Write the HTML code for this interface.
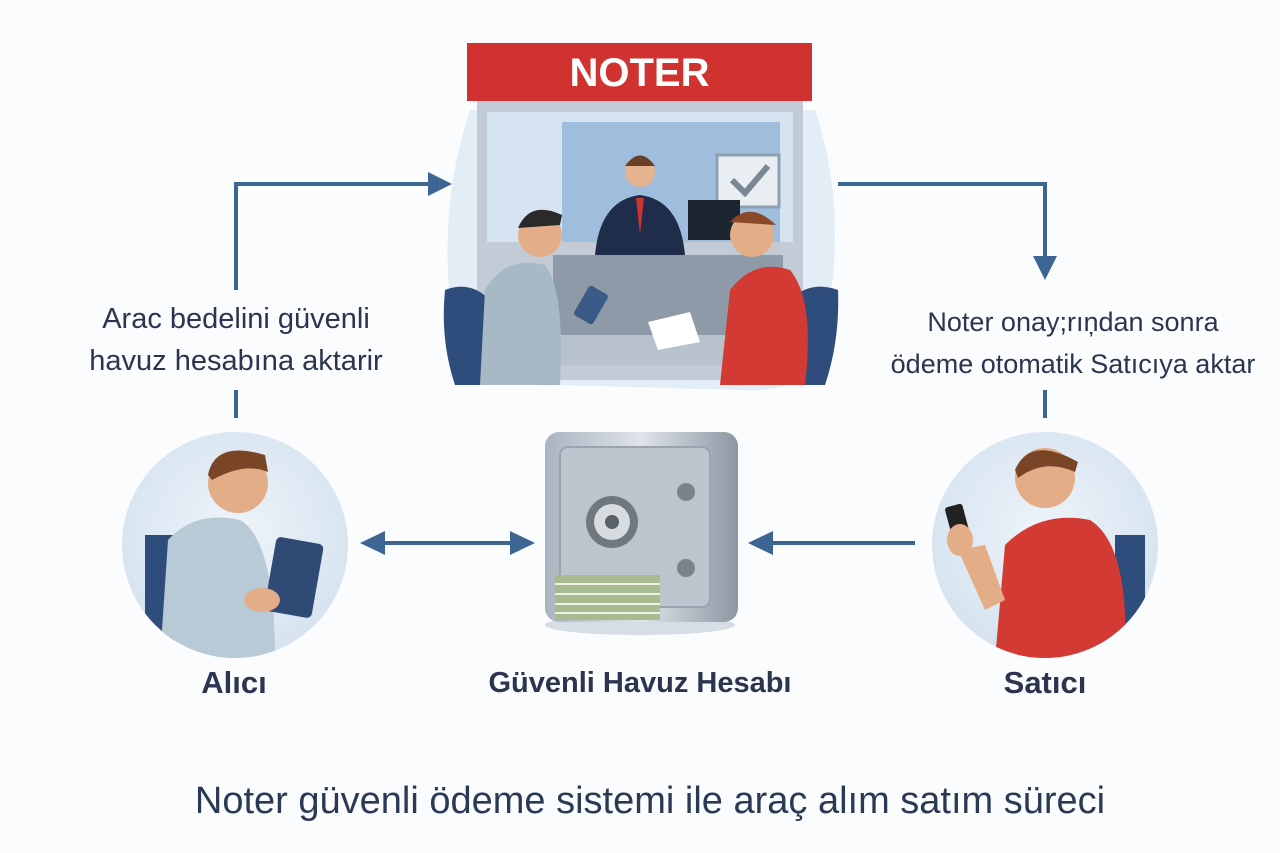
<!DOCTYPE html>
<html><head><meta charset="utf-8"><style>
html,body{margin:0;padding:0}
body{width:1280px;height:853px;background:#fbfcfd;position:relative;overflow:hidden;font-family:"Liberation Sans",sans-serif;color:#2b3550}
.t{position:absolute;text-align:center;white-space:nowrap}
</style></head><body>
<svg width="1280" height="853" style="position:absolute;left:0;top:0">
<defs>
<radialGradient id="cg" cx="50%" cy="45%" r="60%"><stop offset="0" stop-color="#eef4fa"/><stop offset="1" stop-color="#d4e2ef"/></radialGradient>
<linearGradient id="sg" x1="0" x2="1"><stop offset="0" stop-color="#aab3bf"/><stop offset=".5" stop-color="#dfe4ea"/><stop offset="1" stop-color="#8d96a3"/></linearGradient>
</defs>
<path d="M470 110 Q440 200 450 300 Q440 390 560 385 L740 390 Q840 395 830 300 Q845 200 815 110 Z" fill="#e3edf6"/>
<rect x="477" y="100" width="326" height="280" fill="#c3ccd6"/>
<rect x="487" y="112" width="306" height="130" fill="#d6e4f1"/>
<rect x="562" y="122" width="218" height="120" fill="#9fbede"/>
<rect x="717" y="155" width="62" height="52" fill="#e9eef3" stroke="#8fa0b2" stroke-width="3"/>
<path d="M732 180 L745 193 L768 166" stroke="#7a8896" stroke-width="6" fill="none"/>
<rect x="553" y="255" width="230" height="100" fill="#8e9aa8"/>
<rect x="545" y="335" width="250" height="30" fill="#b8c2cc"/>
<circle cx="640" cy="172" r="15" fill="#e6b38f"/><path d="M625 166 Q640 145 655 166 Z" fill="#6a3f26"/>
<path d="M595 255 Q600 200 640 195 Q680 200 685 255 Z" fill="#1f2d4a"/><path d="M636 198 L644 198 L640 235Z" fill="#c33"/>
<rect x="688" y="200" width="52" height="40" fill="#1d2530"/>
<path d="M445 290 Q470 280 490 300 L500 385 L455 385 Q440 340 445 290Z" fill="#2f4d7c"/>
<path d="M838 290 Q810 280 790 300 L780 385 L825 385 Q840 340 838 290Z" fill="#2f4d7c"/>
<circle cx="540" cy="235" r="22" fill="#e3ad88"/><path d="M518 228 Q530 200 562 215 L560 225Z" fill="#2a2a2a"/>
<path d="M480 385 L485 290 Q505 255 545 265 Q565 290 560 385Z" fill="#a7b9c4"/>
<rect x="580" y="288" width="22" height="34" rx="3" fill="#3a5a88" transform="rotate(30 591 305)"/>
<circle cx="752" cy="235" r="22" fill="#e3ad88"/><path d="M730 222 Q750 200 776 225 Z" fill="#8a4a2a"/>
<path d="M720 385 L730 290 Q755 258 790 270 Q815 300 805 385Z" fill="#d23a33"/>
<path d="M648 322 L690 312 L700 342 L658 350Z" fill="#fff"/>
<rect x="467" y="43" width="345" height="58" fill="#d0332f"/>
<g stroke="#3d6594" stroke-width="4" fill="none">
<path d="M236 290 L236 184 L430 184"/>
<path d="M236 390 L236 418"/>
<path d="M838 184 L1045 184 L1045 262"/>
<path d="M1045 390 L1045 418"/>
<path d="M380 543 L515 543"/>
<path d="M915 543 L770 543"/>
</g>
<g fill="#3d6594">
<path d="M452 184 L428 172 L428 196Z"/>
<path d="M1045 280 L1033 256 L1057 256Z"/>
<path d="M360 543 L385 531 L385 555Z"/>
<path d="M535 543 L510 531 L510 555Z"/>
<path d="M748 543 L773 531 L773 555Z"/>
</g>
<circle cx="235" cy="545" r="113" fill="url(#cg)"/>
<clipPath id="c1"><circle cx="235" cy="545" r="113"/></clipPath>
<g clip-path="url(#c1)">
<rect x="145" y="535" width="30" height="110" fill="#2f4d7c"/>
<path d="M160 660 L168 540 Q195 510 240 520 Q275 540 275 660Z" fill="#b8cad6"/>
<circle cx="238" cy="483" r="30" fill="#e3ad88"/><path d="M208 475 Q215 440 265 455 L268 472 Q245 462 212 480Z" fill="#7a4526"/>
<rect x="270" y="540" width="48" height="75" rx="5" fill="#2f4a74" transform="rotate(10 294 577)"/>
<ellipse cx="262" cy="600" rx="18" ry="12" fill="#e3ad88"/>
</g>
<circle cx="1045" cy="545" r="113" fill="url(#cg)"/>
<clipPath id="c2"><circle cx="1045" cy="545" r="113"/></clipPath>
<g clip-path="url(#c2)">
<rect x="1115" y="535" width="30" height="110" fill="#2f4d7c"/>
<path d="M995 660 L1005 545 Q1040 510 1090 520 Q1130 545 1125 660Z" fill="#d23a33"/>
<circle cx="1045" cy="478" r="30" fill="#e3ad88"/><path d="M1015 470 Q1030 435 1078 462 L1075 472 Q1045 458 1018 478Z" fill="#7a4526"/>
<rect x="948" y="505" width="18" height="30" rx="3" fill="#222" transform="rotate(-15 957 520)"/>
<ellipse cx="960" cy="540" rx="13" ry="16" fill="#e3ad88"/>
<path d="M958 550 L985 610 L1005 600 L985 545Z" fill="#e3ad88"/>
</g>
<ellipse cx="640" cy="625" rx="95" ry="10" fill="#d7dde4"/>
<rect x="545" y="432" width="193" height="190" rx="14" fill="url(#sg)"/>
<rect x="560" y="447" width="150" height="160" rx="8" fill="#bcc4ce" stroke="#9aa3ae" stroke-width="2"/>
<circle cx="612" cy="522" r="26" fill="#70787f"/><circle cx="612" cy="522" r="18" fill="#d6dbe0"/><circle cx="612" cy="522" r="7" fill="#5a6168"/>
<circle cx="686" cy="492" r="9" fill="#7a828a"/><circle cx="686" cy="568" r="9" fill="#7a828a"/>
<rect x="555" y="575" width="105" height="45" fill="#a9b990"/>
<g stroke="#eef0e6" stroke-width="2"><line x1="555" y1="584" x2="660" y2="584"/><line x1="555" y1="594" x2="660" y2="594"/><line x1="555" y1="604" x2="660" y2="604"/><line x1="555" y1="613" x2="660" y2="613"/></g>
</svg>
<div class="t" style="left:467px;top:48px;width:345px;font-size:40px;font-weight:bold;color:#fff;line-height:50px">NOTER</div>
<div class="t" style="left:36px;top:298px;width:400px;font-size:29px;line-height:42px">Arac bedelini güvenli<br>havuz hesabına aktarir</div>
<div class="t" style="left:863px;top:301px;width:420px;font-size:27px;line-height:42px">Noter onay;rıņdan sonra<br>ödeme otomatik Satıcıya aktar</div>
<div class="t" style="left:134px;top:665px;width:200px;font-size:31px;font-weight:bold">Alıcı</div>
<div class="t" style="left:440px;top:667px;width:400px;font-size:29px;font-weight:bold">Güvenli Havuz Hesabı</div>
<div class="t" style="left:945px;top:665px;width:200px;font-size:31px;font-weight:bold">Satıcı</div>
<div class="t" style="left:0;top:780px;width:1300px;font-size:38px;color:#2a3a55">Noter güvenli ödeme sistemi ile araç alım satım süreci</div>
</body></html>
